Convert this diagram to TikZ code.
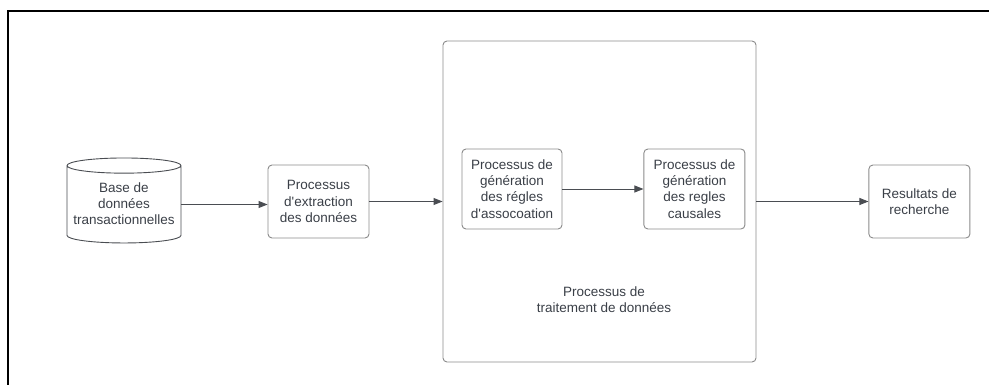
\documentclass[tikz,border=0pt]{standalone}
\usepackage{fontspec}
\setmainfont{Liberation Sans}
\usetikzlibrary{arrows.meta, positioning, shapes.geometric}

\definecolor{txtgray}{HTML}{3A3F47}
\definecolor{boxgray}{HTML}{8A8A8A}
\definecolor{arrgray}{HTML}{4A4D52}

\begin{document}
\begin{tikzpicture}[x=1pt,y=-1pt,align=center,font=\fontsize{13.5}{16.3}\selectfont,text=txtgray]
\tikzstyle{process}=[rectangle,draw=boxgray,rounded corners=4pt,line width=0.9pt,inner sep=0pt]
\tikzstyle{flow}=[-{Triangle[length=9pt,width=7pt]},draw=arrgray,line width=0.9pt]

\useasboundingbox (0,0) rectangle (989,385);

% cadre de la capture
\draw[line width=2pt,black] (989,11) -- (8,11) -- (8,385);

\node[cylinder, shape border rotate=90, aspect=0.15, draw=arrgray, line width=0.9pt,
      minimum width=114pt, minimum height=85pt, inner sep=0pt] (db) at (124,204.5)
      {\\[-8pt]Base de\\données\\transactionnelles};
\node[process, minimum width=101pt, minimum height=73pt] (extract) at (318.5,201.5)
      {Processus\\d\textquotesingle extraction\\des données};
\node[process, minimum width=313pt, minimum height=321pt] (trait) at (599.5,201.5) {};
\node[process, minimum width=100pt, minimum height=80pt] (assoc) at (512,189)
      {Processus de\\génération\\des régles\\d\textquotesingle assocoation};
\node[process, minimum width=101pt, minimum height=80pt] (causal) [right = 81pt of assoc]
      {Processus de\\génération\\des regles\\causales};
\node[process, minimum width=101pt, minimum height=73pt] (result) [right = 112pt of trait]
      {Resultats de\\recherche};
\node (traitlabel) at (604,300) {Processus de\\traitement de données};

\draw[flow] (db.east) -- (db.east -| extract.west);
\draw[flow] (extract.east) -- (trait.west |- extract.east);
\draw[flow] (assoc) -- (causal);
\draw[flow] (trait.east) -- (result.west |- trait.east);
\end{tikzpicture}
\end{document}
